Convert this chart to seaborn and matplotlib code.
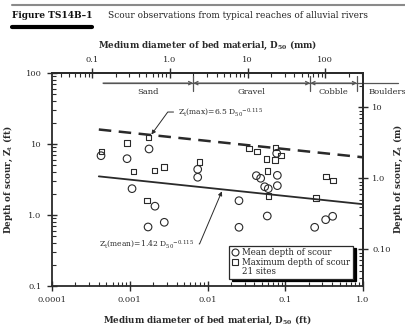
import numpy as np
import pandas as pd
import matplotlib
matplotlib.use("Agg")
import matplotlib.pyplot as plt
import seaborn as sns
from matplotlib.ticker import FixedLocator, FixedFormatter, LogLocator, NullFormatter
from matplotlib.lines import Line2D

# ---------------- data ----------------
mean_d50_ft = [0.000427, 0.00177, 0.000923, 0.00107, 0.00211, 0.00172, 0.00278,
               0.00748, 0.00748, 0.0776, 0.0425, 0.0483, 0.0791, 0.0791, 0.0544,
               0.0605, 0.0254, 0.0587, 0.0254, 0.239, 0.331, 0.407]
mean_depth_ft = [6.84, 8.51, 6.21, 2.35, 1.33, 0.678, 0.789,
                 4.40, 3.40, 7.39, 3.58, 3.29, 3.62, 2.59, 2.50,
                 2.35, 1.59, 0.968, 0.671, 0.671, 0.859, 0.959]
max_d50_ft = [0.000435, 0.000923, 0.00175, 0.00112, 0.00209, 0.00276, 0.00167,
              0.00785, 0.0339, 0.0434, 0.0753, 0.0881, 0.0577, 0.0738, 0.0594,
              0.0612, 0.247, 0.334, 0.411]
max_depth_ft = [7.79, 10.4, 12.4, 4.12, 4.26, 4.70, 1.59,
                5.58, 8.70, 7.79, 8.87, 6.84, 6.15, 5.95, 4.17,
                1.85, 1.75, 3.51, 3.08]

line_d50_ft = [0.0004, 1.0]
max_line_ft = [16.0, 6.5]
mean_line_ft = [3.5, 1.42]

x_ticks_ft = [0.0001, 0.001, 0.01, 0.1, 1.0]
x_ticklabels = ["0.0001", "0.001", "0.01", "0.1", "1.0"]
y_ticks_ft = [0.1, 1.0, 10, 100]
y_ticklabels = ["0.1", "1.0", "10", "100"]
top_ticks_mm = [0.1, 1.0, 10, 100]
top_ticklabels = ["0.1", "1.0", "10", "100"]
right_ticks_m = [0.1, 1.0, 10]
right_ticklabels = ["0.10", "1.0", "10"]

size_classes = ["Sand", "Gravel", "Cobble", "Boulders"]
class_bounds_mm = [0.138, 2, 64, 256, 860]

FT_PER_MM = 1 / 304.8
M_PER_FT = 0.3048

# ---------------- style ----------------
sns.set_style("ticks")
plt.rcParams["font.family"] = ["DejaVu Serif"]
plt.rcParams["mathtext.fontset"] = "dejavuserif"
plt.rcParams["axes.linewidth"] = 1.3

fig = plt.figure(figsize=(4.05, 3.26), dpi=100)
ax = fig.add_axes([0.1284, 0.1227, 0.7679, 0.6534])
ax.set_xscale("log")
ax.set_yscale("log")
ax.set_xlim(0.0001, 1.0)
ax.set_ylim(0.1, 100)

ink = "#2a2a2a"

# regression lines
sns.lineplot(x=line_d50_ft, y=max_line_ft, ax=ax, color=ink, lw=1.8,
             dashes=False, linestyle=(0, (5, 3)))
sns.lineplot(x=line_d50_ft, y=mean_line_ft, ax=ax, color=ink, lw=1.3)

# points
sns.scatterplot(x=mean_d50_ft, y=mean_depth_ft, ax=ax, marker="o", s=30,
                facecolor="none", edgecolor=ink, linewidth=0.8, zorder=3)
sns.scatterplot(x=max_d50_ft, y=max_depth_ft, ax=ax, marker="s", s=16,
                facecolor="none", edgecolor=ink, linewidth=0.8, zorder=3)

# ticks
ax.xaxis.set_major_locator(FixedLocator(x_ticks_ft))
ax.xaxis.set_major_formatter(FixedFormatter(x_ticklabels))
ax.xaxis.set_minor_locator(LogLocator(base=10, subs=np.arange(2, 10), numticks=20))
ax.xaxis.set_minor_formatter(NullFormatter())
ax.yaxis.set_major_locator(FixedLocator(y_ticks_ft))
ax.yaxis.set_major_formatter(FixedFormatter(y_ticklabels))
ax.yaxis.set_minor_locator(LogLocator(base=10, subs=np.arange(2, 10), numticks=20))
ax.yaxis.set_minor_formatter(NullFormatter())
ax.tick_params(which="major", direction="inout", length=7, width=1.0,
               labelsize=6, colors=ink, pad=4)
ax.tick_params(which="minor", direction="in", length=3, width=0.8, colors=ink)
for s in ax.spines.values():
    s.set_color(ink)

# secondary axes
top = ax.secondary_xaxis("top", functions=(lambda f: f / FT_PER_MM, lambda m: m * FT_PER_MM))
top.xaxis.set_major_locator(FixedLocator(top_ticks_mm))
top.xaxis.set_major_formatter(FixedFormatter(top_ticklabels))
top.xaxis.set_minor_locator(LogLocator(base=10, subs=np.arange(2, 10), numticks=20))
top.xaxis.set_minor_formatter(NullFormatter())
top.tick_params(which="major", direction="inout", length=7, width=1.0, labelsize=6, colors=ink, pad=3)
top.tick_params(which="minor", direction="in", length=3, width=0.8, colors=ink)
top.set_xlabel(r"Medium diameter of bed material, D$_{\mathbf{50}}$ (mm)",
               fontsize=6.3, fontweight="bold", labelpad=6, color=ink)

right = ax.secondary_yaxis("right", functions=(lambda f: f * M_PER_FT, lambda m: m / M_PER_FT))
right.yaxis.set_major_locator(FixedLocator(right_ticks_m))
right.yaxis.set_major_formatter(FixedFormatter(right_ticklabels))
right.yaxis.set_minor_locator(LogLocator(base=10, subs=np.arange(2, 10), numticks=20))
right.yaxis.set_minor_formatter(NullFormatter())
right.tick_params(which="major", direction="inout", length=7, width=1.0, labelsize=6, colors=ink, pad=3)
right.tick_params(which="minor", direction="in", length=3, width=0.8, colors=ink)
right.set_ylabel(r"Depth of scour, Z$_{\mathbf{t}}$ (m)", fontsize=6.3,
                 fontweight="bold", labelpad=1, color=ink)

ax.set_xlabel(r"Medium diameter of bed material, D$_{\mathbf{50}}$ (ft)",
              fontsize=6.3, fontweight="bold", labelpad=7, color=ink)
ax.set_ylabel(r"Depth of scour, Z$_{\mathbf{t}}$ (ft)", fontsize=6.3,
              fontweight="bold", labelpad=8, color=ink)

# size-class band
band_y = 72
band_col = "#555555"
bounds_ft = [b * FT_PER_MM for b in class_bounds_mm]
ax.plot([bounds_ft[0], bounds_ft[-1]], [band_y, band_y], color=band_col, lw=0.9, clip_on=False)
for b in bounds_ft[1:4]:
    ax.plot([b, b], [56, 91], color=band_col, lw=0.9, clip_on=False)
arrow_kw = dict(color=band_col, lw=0.9, mutation_scale=6, shrinkA=0, shrinkB=0)
ax.annotate("", xy=(bounds_ft[1], band_y), xytext=(bounds_ft[0], band_y),
            arrowprops=dict(arrowstyle="->", **arrow_kw), annotation_clip=False)
for i in (1, 2):
    ax.annotate("", xy=(bounds_ft[i + 1], band_y), xytext=(bounds_ft[i], band_y),
                arrowprops=dict(arrowstyle="<->", **arrow_kw), annotation_clip=False)
for i, name in enumerate(size_classes[:3]):
    xm = np.sqrt(bounds_ft[i] * bounds_ft[i + 1])
    ax.text(xm, 54, name, ha="center", va="center", fontsize=6, color=ink)
ax.text(1.18, 54, size_classes[3], ha="left", va="center", fontsize=6,
        color=ink, clip_on=False)

# equations
ax.annotate(r"Z$_\mathrm{t}$(max)=6.5 D$_{50}$$^{-0.115}$", xy=(0.0019, 13.6),
            xytext=(0.0042, 28.2), ha="left", va="center", fontsize=5.5, color=ink,
            arrowprops=dict(arrowstyle="-|>", color=ink, lw=0.7, mutation_scale=6,
                            connectionstyle="angle,angleA=0,angleB=54,rad=0",
                            shrinkA=1, shrinkB=0))
ax.annotate(r"Z$_\mathrm{t}$(mean)=1.42 D$_{50}$$^{-0.115}$", xy=(0.0153, 2.15),
            xytext=(0.000405, 0.391), ha="left", va="center", fontsize=5.5, color=ink,
            arrowprops=dict(arrowstyle="-|>", color=ink, lw=0.7, mutation_scale=6,
                            connectionstyle="angle,angleA=0,angleB=-113,rad=0",
                            shrinkA=1, shrinkB=0))

# legend
handles = [
    Line2D([], [], marker="o", ls="none", mfc="none", mec=ink, ms=5, mew=0.8),
    Line2D([], [], marker="s", ls="none", mfc="none", mec=ink, ms=4, mew=0.8),
    Line2D([], [], ls="none"),
]
leg = ax.legend(handles, ["Mean depth of scour", "Maximum depth of scour", "21 sites"],
                loc="lower left", bbox_to_anchor=(0.57, 0.035), fontsize=6.2,
                frameon=True, fancybox=False,
                shadow={"color": "black", "alpha": 1.0},
                handlelength=0.8, handletextpad=0.4, borderpad=0.3,
                labelspacing=0.05, borderaxespad=0)
leg.get_frame().set_edgecolor(ink)
leg.get_frame().set_linewidth(0.9)

# title block
fig.add_artist(Line2D([12 / 405, 1.0], [1 - 5 / 326, 1 - 5 / 326],
                      color="#8a8a8a", lw=1.5))
fig.text(12 / 405, 1 - 16 / 326, "Figure TS14B\u20131", fontsize=6.5,
         fontweight="bold", va="center", ha="left", color="#111111")
fig.text(108 / 405, 1 - 16 / 326,
         "Scour observations from typical reaches of alluvial rivers",
         fontsize=6.4, va="center", ha="left", color="#222222")
fig.add_artist(Line2D([12 / 405, 92 / 405], [1 - 27 / 326, 1 - 27 / 326],
                      color="black", lw=3))

fig.savefig("out.png", dpi=100)
